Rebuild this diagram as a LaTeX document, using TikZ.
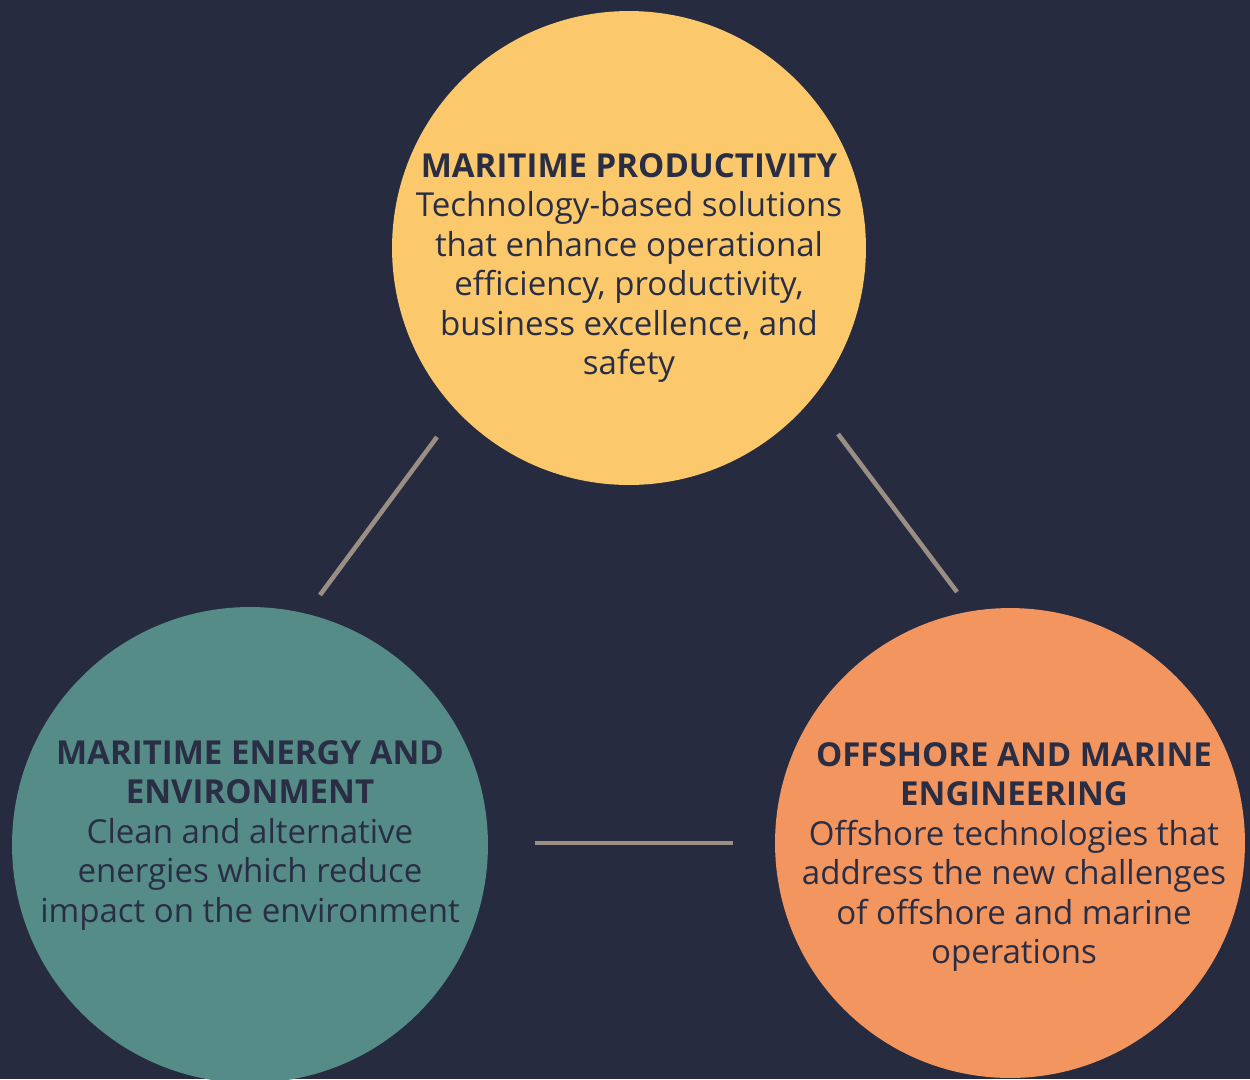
\documentclass[tikz,border=0pt]{standalone}
\usepackage{fontspec}
\setmainfont{Open Sans}
\definecolor{navy}{HTML}{272B40}
\definecolor{ink}{HTML}{2A2E45}
\definecolor{sun}{HTML}{FBC96C}
\definecolor{sea}{HTML}{558C88}
\definecolor{coral}{HTML}{F3955F}
\definecolor{rope}{HTML}{9B8F84}
\tikzset{
  disc/.style={circle, minimum size=#1, inner sep=0pt},
  blurb/.style={align=center, text=ink, inner sep=0pt, anchor=north,
    font=\fontsize{18.8}{22.5}\selectfont},
  link/.style={draw=rope, line width=2.6pt}
}
\begin{document}
\begin{tikzpicture}[x=0.02cm,y=-0.02cm]
\fill[navy] (0,0) rectangle (1250,1079);
\useasboundingbox (0,0) rectangle (1250,1079);
\clip (0,0) rectangle (1250,1079);

\path
(629,248) node[disc=9.48cm, fill=sun] (prod) {}
(250,845) node[disc=9.52cm, fill=sea] (energy) {}
(1010,843) node[disc=9.4cm, fill=coral] (offshore) {};

\path
(629,153) node[blurb] (prod-txt) {\textbf{MARITIME PRODUCTIVITY}\\
  Technology-based solutions\\ that enhance operational\\
  efficiency, productivity,\\ business excellence, and\\ safety}
(250,740) node[blurb] (energy-txt) {\textbf{MARITIME ENERGY AND}\\
  \textbf{ENVIRONMENT}\\ Clean and alternative\\
  energies which reduce\\ impact on the environment}
(1014,742) node[blurb] (offshore-txt) {\textbf{OFFSHORE AND MARINE}\\
  \textbf{ENGINEERING}\\ Offshore technologies that\\
  address the new challenges\\ of offshore and marine\\ operations};

\coordinate (l1a) at (437,437);
\coordinate (l1b) at (320,595);
\coordinate (l2a) at (838,434);
\coordinate (l2b) at (957,592);
\coordinate (l3a) at (535,843);
\coordinate (l3b) at (733,843);

\draw[link] (l1a) -- (l1b);
\draw[link] (l2a) -- (l2b);
\draw[link] (l3a) -- (l3b);
\end{tikzpicture}
\end{document}
